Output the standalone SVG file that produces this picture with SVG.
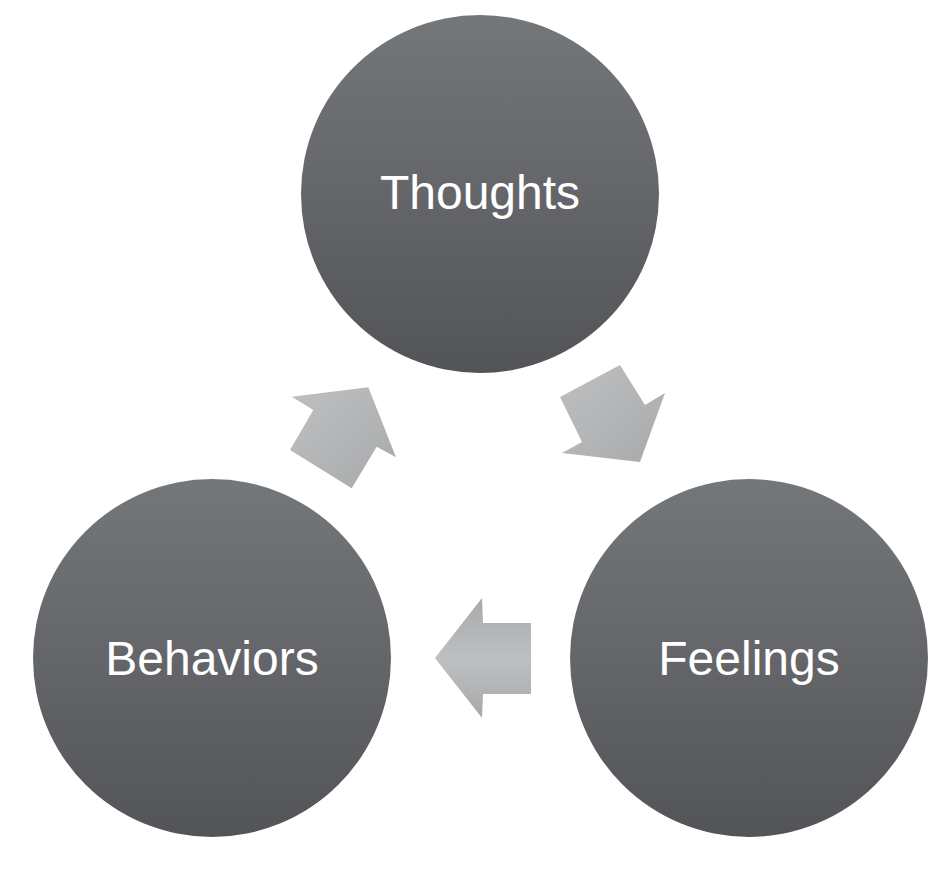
<svg xmlns="http://www.w3.org/2000/svg" width="946" height="870" viewBox="0 0 946 870">
<defs>
<linearGradient id="cg" x1="0" y1="0" x2="0" y2="1">
<stop offset="0" stop-color="#74777a"/>
<stop offset="1" stop-color="#535458"/>
</linearGradient>
<linearGradient id="ag" x1="0" y1="0" x2="1" y2="1">
<stop offset="0" stop-color="#bfc0c2"/>
<stop offset="1" stop-color="#a8a9ab"/>
</linearGradient>
<linearGradient id="ag2" x1="0" y1="0" x2="0" y2="1">
<stop offset="0" stop-color="#a8a9ab"/>
<stop offset="0.5" stop-color="#bebfc1"/>
<stop offset="1" stop-color="#a8a9ab"/>
</linearGradient>
<style>
.node circle{fill:url(#cg)}
.node text{fill:#fff;font-family:"Liberation Sans",Arial,sans-serif;font-size:48px;text-anchor:middle}
.arrow{fill:url(#ag)}
</style>
</defs>
<rect width="946" height="870" fill="#fff"/>
<g id="connectors">
<polygon class="arrow" points="291.7,396.7 368.3,387.3 396,457.3 376.7,446.7 351.7,488.3 290,450 313.3,410"/>
<polygon class="arrow" points="560,397 620,365 645,405 665,393 640,462 562,453 582,442"/>
<polygon style="fill:url(#ag2)" points="435,658 482,598 483,623 531,623 531,694 483,694 482,718"/>
</g>
<g id="thoughts" class="node">
<circle cx="480" cy="194" r="179"/>
<text x="480" y="209">Thoughts</text>
</g>
<g id="feelings" class="node">
<circle cx="749" cy="658" r="179"/>
<text x="749" y="675">Feelings</text>
</g>
<g id="behaviors" class="node">
<circle cx="212" cy="658" r="179"/>
<text x="212" y="675">Behaviors</text>
</g>
</svg>
